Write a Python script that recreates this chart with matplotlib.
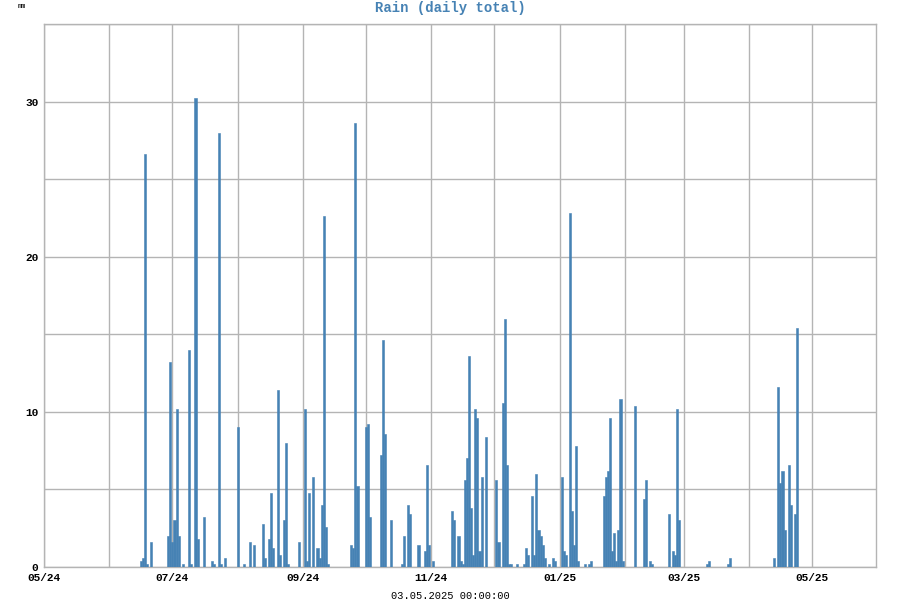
import numpy as np
import pandas as pd
import matplotlib
matplotlib.use('Agg')
import matplotlib.pyplot as plt
import matplotlib.dates as mdates
from matplotlib.ticker import MultipleLocator, FuncFormatter

# daily rain totals (mm)
days = [
    '2024-06-16', '2024-06-17', '2024-06-18', '2024-06-19', '2024-06-21',
    '2024-06-29', '2024-06-30', '2024-07-01', '2024-07-02', '2024-07-03', '2024-07-04', '2024-07-06',
    '2024-07-09', '2024-07-10', '2024-07-12', '2024-07-13', '2024-07-16', '2024-07-20', '2024-07-21',
    '2024-07-23', '2024-07-24', '2024-07-26',
    '2024-08-01', '2024-08-04', '2024-08-07', '2024-08-09', '2024-08-13', '2024-08-14', '2024-08-16',
    '2024-08-17', '2024-08-18', '2024-08-20', '2024-08-21', '2024-08-23', '2024-08-24', '2024-08-25',
    '2024-08-30',
    '2024-09-02', '2024-09-03', '2024-09-04', '2024-09-06', '2024-09-08', '2024-09-09', '2024-09-10',
    '2024-09-11', '2024-09-12', '2024-09-13', '2024-09-24', '2024-09-25', '2024-09-26', '2024-09-27',
    '2024-10-01', '2024-10-02', '2024-10-03', '2024-10-08', '2024-10-09', '2024-10-10', '2024-10-13',
    '2024-10-18', '2024-10-19', '2024-10-21', '2024-10-22', '2024-10-26', '2024-10-29', '2024-10-30',
    '2024-10-31',
    '2024-11-02', '2024-11-11', '2024-11-12', '2024-11-14', '2024-11-15', '2024-11-16', '2024-11-17',
    '2024-11-18', '2024-11-19', '2024-11-20', '2024-11-21', '2024-11-22', '2024-11-23', '2024-11-24',
    '2024-11-25', '2024-11-27',
    '2024-12-02', '2024-12-03', '2024-12-05', '2024-12-06', '2024-12-07', '2024-12-08', '2024-12-09',
    '2024-12-12', '2024-12-15', '2024-12-16', '2024-12-17', '2024-12-19', '2024-12-20', '2024-12-21',
    '2024-12-22', '2024-12-23', '2024-12-24', '2024-12-25', '2024-12-27', '2024-12-29', '2024-12-30',
    '2025-01-02', '2025-01-03', '2025-01-04', '2025-01-06', '2025-01-07', '2025-01-08', '2025-01-09',
    '2025-01-10', '2025-01-13', '2025-01-15', '2025-01-16', '2025-01-22', '2025-01-23', '2025-01-24',
    '2025-01-25', '2025-01-26', '2025-01-27', '2025-01-28', '2025-01-29', '2025-01-30', '2025-01-31',
    '2025-02-06', '2025-02-10', '2025-02-11', '2025-02-13', '2025-02-14', '2025-02-22', '2025-02-24',
    '2025-02-25', '2025-02-26', '2025-02-27',
    '2025-03-12', '2025-03-13', '2025-03-22', '2025-03-23',
    '2025-04-13', '2025-04-15', '2025-04-16', '2025-04-17', '2025-04-18', '2025-04-20', '2025-04-21',
    '2025-04-23', '2025-04-24',
]
rain = [
    0.4, 0.6, 26.6, 0.2, 1.6,
    2.0, 13.2, 1.6, 3.0, 10.2, 2.0, 0.2,
    14.0, 0.2, 30.2, 1.8, 3.2, 0.4, 0.2,
    28.0, 0.2, 0.6,
    9.0, 0.2, 1.6, 1.4, 2.8, 0.6, 1.8,
    4.8, 1.2, 11.4, 0.8, 3.0, 8.0, 0.2,
    1.6,
    10.2, 0.4, 4.8, 5.8, 1.2, 0.6, 4.0,
    22.6, 2.6, 0.2, 1.4, 1.2, 28.6, 5.2,
    9.0, 9.2, 3.2, 7.2, 14.6, 8.6, 3.0,
    0.2, 2.0, 4.0, 3.4, 1.4, 1.0, 6.6,
    1.4,
    0.4, 3.6, 3.0, 2.0, 0.4, 0.2, 5.6,
    7.0, 13.6, 3.8, 0.8, 10.2, 9.6, 1.0,
    5.8, 8.4,
    5.6, 1.6, 10.6, 16.0, 6.6, 0.2, 0.2,
    0.2, 0.2, 1.2, 0.8, 4.6, 0.8, 6.0,
    2.4, 2.0, 1.4, 0.6, 0.2, 0.6, 0.4,
    5.8, 1.0, 0.8, 22.8, 3.6, 1.4, 7.8,
    0.4, 0.2, 0.2, 0.4, 4.6, 5.8, 6.2,
    9.6, 1.0, 2.2, 0.4, 2.4, 10.8, 0.4,
    10.4, 4.4, 5.6, 0.4, 0.2, 3.4, 1.0,
    0.8, 10.2, 3.0,
    0.2, 0.4, 0.2, 0.6,
    0.6, 11.6, 5.4, 6.2, 2.4, 6.6, 4.0,
    3.4, 15.4,
]
month_ticks = pd.date_range('2024-05-01', '2025-05-01', freq='MS')
month_labels = [d.strftime('%m/%y') if i % 2 == 0 else '' for i, d in enumerate(month_ticks)]
stamp = '03.05.2025 00:00:00'

mono = 'Liberation Mono'
blue = '#4682b4'
grid_col = '#b4b4b4'

fig = plt.figure(figsize=(9, 6), dpi=100)
ax = fig.add_axes([44 / 900, 1 - 567 / 600, 832 / 900, 543 / 600])

ax.bar(pd.to_datetime(days), rain, width=1.0, color=blue, edgecolor=blue,
       linewidth=0.4, align='center', zorder=3)

ax.set_xlim(pd.Timestamp('2024-05-01'), pd.Timestamp('2025-05-31 10:00'))
ax.set_ylim(0, 35)

ax.set_xticks(month_ticks)
ax.set_xticklabels(month_labels)
ax.yaxis.set_major_locator(MultipleLocator(5))
ax.yaxis.set_major_formatter(FuncFormatter(lambda v, p: '%d' % v if v % 10 == 0 else ''))

ax.grid(True, color=grid_col, linewidth=1.0, zorder=0)
ax.tick_params(length=0, pad=4)
for lab in ax.get_xticklabels() + ax.get_yticklabels():
    lab.set_fontfamily(mono)
    lab.set_fontweight('bold')
    lab.set_fontsize(8)
for s in ax.spines.values():
    s.set_color(grid_col)
    s.set_linewidth(1.0)

fig.text(0.5, 1 - 8 / 600, 'Rain (daily total)', ha='center', va='center',
         family=mono, fontweight='bold', fontsize=10, color=blue)
fig.text(22 / 900, 1 - 7 / 600, 'mm', ha='center', va='center', family=mono, fontsize=5)
fig.text(0.5, 1 - 596 / 600, stamp, ha='center', va='center', family=mono, fontsize=7.5)

fig.savefig('out.png', dpi=100)
